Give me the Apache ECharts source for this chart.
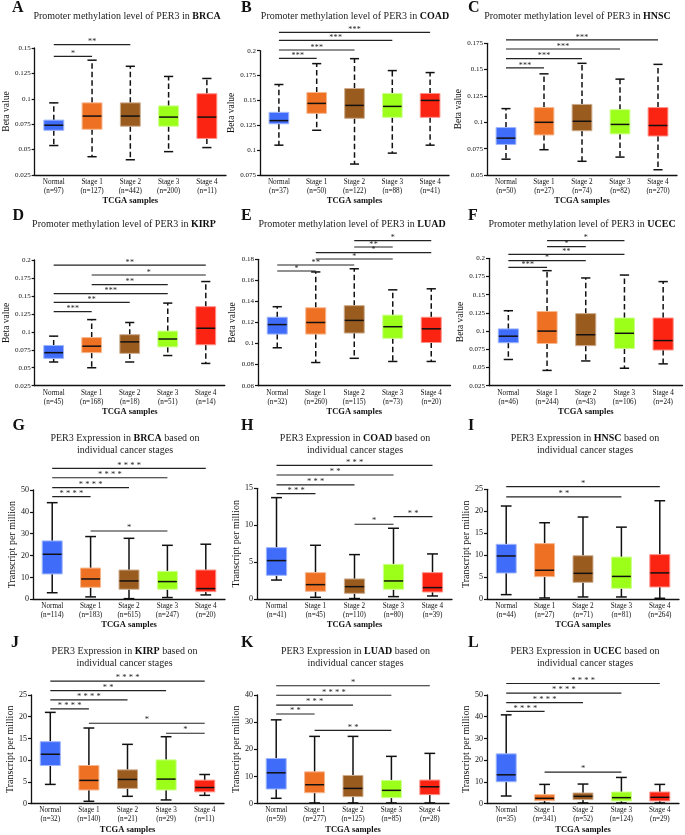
<!DOCTYPE html>
<html><head><meta charset="utf-8">
<script src="https://cdn.jsdelivr.net/npm/echarts@6/dist/echarts.min.js"></script>
<style>html,body{margin:0;padding:0;background:#fff}#c{width:685px;height:835px}</style>
</head><body><div id="c"></div>
<script>
// ---------------- DATA ----------------
const categories = ['Normal', 'Stage 1', 'Stage 2', 'Stage 3', 'Stage 4'];
const cancers = ['BRCA', 'COAD', 'HNSC', 'KIRP', 'LUAD', 'UCEC', 'BRCA', 'COAD', 'HNSC', 'KIRP', 'LUAD', 'UCEC'];
const letters = ['A','B','C','D','E','F','G','H','I','J','K','L'];

const nA = [97, 127, 442, 200, 11];
const nB = [37, 50, 122, 88, 41];
const nC = [50, 27, 74, 82, 270];
const nD = [45, 168, 18, 51, 14];
const nE = [32, 260, 115, 73, 20];
const nF = [46, 244, 43, 106, 24];
const nG = [114, 183, 615, 247, 20];
const nH = [41, 45, 110, 80, 39];
const nI = [44, 27, 71, 81, 264];
const nJ = [32, 140, 21, 29, 11];
const nK = [59, 277, 125, 85, 28];
const nL = [35, 341, 52, 124, 29];

// [min, Q1, median, Q3, max]
const boxA = [[0.054,0.069,0.074,0.079,0.096],[0.043,0.070,0.083,0.096,0.138],[0.040,0.073,0.083,0.096,0.132],[0.048,0.073,0.082,0.093,0.122],[0.052,0.061,0.082,0.105,0.120]];
const boxB = [[0.105,0.1265,0.1297,0.138,0.166],[0.120,0.137,0.147,0.158,0.187],[0.086,0.132,0.145,0.162,0.192],[0.097,0.133,0.144,0.157,0.180],[0.105,0.133,0.150,0.157,0.178]];
const boxC = [[0.065,0.079,0.085,0.095,0.113],[0.074,0.088,0.100,0.114,0.146],[0.063,0.092,0.101,0.117,0.156],[0.067,0.089,0.098,0.112,0.141],[0.055,0.087,0.097,0.114,0.155]];
const boxD = [[0.058,0.063,0.071,0.081,0.094],[0.050,0.071,0.080,0.092,0.117],[0.058,0.070,0.086,0.096,0.113],[0.067,0.079,0.090,0.101,0.140],[0.056,0.082,0.105,0.135,0.170]];
const boxE = [[0.096,0.109,0.118,0.125,0.135],[0.082,0.109,0.120,0.134,0.168],[0.086,0.110,0.122,0.136,0.171],[0.083,0.105,0.116,0.127,0.151],[0.083,0.101,0.114,0.125,0.152]];
const boxF = [[0.061,0.084,0.093,0.103,0.128],[0.046,0.083,0.100,0.127,0.183],[0.059,0.080,0.095,0.124,0.173],[0.049,0.076,0.097,0.118,0.177],[0.055,0.074,0.087,0.118,0.168]];
const boxG = [[3.0,11.6,20.6,26.7,44.2],[1.1,5.5,9.3,14.3,28.7],[0.3,4.6,8.4,13.4,27.9],[0.8,4.6,8.1,12.8,24.7],[2.0,3.5,4.9,13.4,25.2]];
const boxH = [[2.6,3.24,5.23,6.98,13.74],[0.27,1.08,1.98,3.6,7.3],[0.1,0.81,1.71,2.75,6.04],[0.36,1.35,2.48,4.73,9.6],[0.45,0.99,1.58,3.6,6.13]];
const boxI = [[1.06,5.98,9.85,12.5,21.2],[0.3,5.15,6.6,12.65,17.4],[0.53,3.86,5.9,9.9,18.7],[0.53,2.5,5.2,9.6,16.4],[0.23,2.8,6.0,10.15,22.4]];
const boxJ = [[4.42,8.77,11.36,14.25,21.0],[0.53,3.13,5.34,8.77,17.4],[1.68,3.5,5.56,7.77,13.64],[0.84,3.13,5.64,10.06,15.4],[1.9,2.7,3.7,5.4,6.7]];
const boxK = [[1.95,5.37,11.34,16.6,30.85],[0.24,4.0,6.95,11.7,24.76],[0.24,2.56,5.6,10.37,24.76],[0.24,2.2,4.88,8.54,17.4],[0.24,3.3,6.2,8.66,18.5]];
const boxL = [[3.5,10.06,13.26,22.9,40.85],[0.15,1.37,2.44,4.1,8.84],[0.3,1.83,3.35,4.88,9.0],[0.3,1.22,2.74,5.33,12.04],[0.3,1.22,2.9,5.33,8.84]];

// significance brackets: [fromCategory, toCategory, level, stars]
const sigA = [[0,1,0.1418,'*'],[0,2,0.1533,'**']];
const sigB = [[0,1,0.1923,'***'],[0,2,0.2007,'***'],[0,3,0.2104,'***'],[0,4,0.2184,'***']];
const sigC = [[0,1,0.1516,'***'],[0,2,0.1604,'***'],[0,3,0.1696,'***'],[0,4,0.1782,'***']];
const sigD = [[0,1,0.128,'***'],[0,2,0.141,'**'],[0,3,0.1532,'***'],[1,3,0.1657,'**'],[1,4,0.1791,'*'],[0,4,0.193,'**']];
const sigE = [[0,1,0.1689,'*'],[0,2,0.1746,'**'],[1,3,0.1803,'*'],[1,4,0.1863,'*'],[2,3,0.1917,'**'],[2,4,0.1977,'*']];
const sigF = [[0,1,0.1876,'***'],[0,2,0.1968,'*'],[0,3,0.2055,'**'],[1,2,0.216,'*'],[1,3,0.2243,'*']];
const sigG = [[0,1,47.0,'****'],[0,2,51.1,'****'],[0,3,55.6,'****'],[0,4,59.9,'****'],[1,3,31.25,'*']];
const sigH = [[0,1,14.28,'***'],[0,2,15.45,'***'],[0,3,16.8,'**'],[0,4,18.1,'***'],[2,3,10.14,'*'],[3,4,11.17,'**']];
const sigI = [[0,3,23.3,'**'],[0,4,25.6,'*']];
const sigJ = [[0,1,21.8,'****'],[0,2,23.86,'****'],[0,3,26.0,'**'],[0,4,28.2,'****'],[1,4,18.5,'*'],[3,4,16.2,'*']];
const sigK = [[0,1,33.0,'**'],[0,2,36.3,'***'],[0,3,39.9,'****'],[0,4,43.4,'*'],[1,3,26.95,'**']];
const sigL = [[0,1,42.5,'****'],[0,2,46.5,'****'],[0,3,50.9,'****'],[0,4,55.3,'****'],[1,3,14.5,'*']];

// y-axis tick labels
const ticksA = [0.025, 0.05, 0.075, 0.1, 0.125, 0.15];
const ticksB = [0.075, 0.1, 0.125, 0.15, 0.175, 0.2];
const ticksC = [0.05, 0.075, 0.1, 0.125, 0.15, 0.175];
const ticksD = [0.025, 0.05, 0.075, 0.1, 0.125, 0.15, 0.175, 0.2];
const ticksE = [0.06, 0.08, 0.1, 0.12, 0.14, 0.16, 0.18];
const ticksF = [0.025, 0.05, 0.075, 0.1, 0.125, 0.15, 0.175, 0.2];
const ticksG = [0, 10, 20, 30, 40, 50];
const ticksH = [0, 5, 10, 15];
const ticksI = [0, 5, 10, 15, 20, 25];
const ticksJ = [0, 5, 10, 15, 20, 25];
const ticksK = [0, 10, 20, 30, 40];
const ticksL = [0, 10, 20, 30, 40, 50];

// ---------------- LAYOUT / STYLE ----------------
const FONT = 'Liberation Serif';
const COLORS = ['#3f6cf8', '#ee7022', '#9a5b1f', '#9bff1a', '#fb2412'];
function tint(hex, f) {
  const n = parseInt(hex.slice(1), 16);
  const r = (n >> 16) & 255, g = (n >> 8) & 255, b = n & 255;
  const m = c => Math.round(c + (255 - c) * f);
  return 'rgb(' + m(r) + ',' + m(g) + ',' + m(b) + ')';
}
const BORDERS = COLORS.map(c => tint(c, 0.5));

const panels = [
  {n:nA, box:boxA, sig:sigA, ticks:ticksA, g:{l:32.3, t:48, w:193.7, h:127}},
  {n:nB, box:boxB, sig:sigB, ticks:ticksB, g:{l:260, t:50.7, w:189, h:124.3}},
  {n:nC, box:boxC, sig:sigC, ticks:ticksC, g:{l:487, t:43.3, w:190, h:131.7}},
  {n:nD, box:boxD, sig:sigD, ticks:ticksD, g:{l:32.8, t:260, w:192, h:125.7}},
  {n:nE, box:boxE, sig:sigE, ticks:ticksE, g:{l:258, t:259.3, w:192.5, h:126.4}},
  {n:nF, box:boxF, sig:sigF, ticks:ticksF, g:{l:489, t:258.3, w:193.5, h:127.4}},
  {n:nG, box:boxG, sig:sigG, ticks:ticksG, g:{l:33, t:490, w:192, h:109.3}},
  {n:nH, box:boxH, sig:sigH, ticks:ticksH, g:{l:257, t:488.3, w:195, h:111}},
  {n:nI, box:boxI, sig:sigI, ticks:ticksI, g:{l:487, t:489.3, w:192, h:110}},
  {n:nJ, box:boxJ, sig:sigJ, ticks:ticksJ, g:{l:31, t:695, w:193, h:109.3}},
  {n:nK, box:boxK, sig:sigK, ticks:ticksK, g:{l:257, t:695, w:192, h:109.3}},
  {n:nL, box:boxL, sig:sigL, ticks:ticksL, g:{l:487, t:695, w:192, h:109.3}}
];
const letterPos = [[12,8],[241,8],[468,8],[12.5,216],[241,216],[468,216],[12.5,426],[241,426],[468,426],[11,642.5],[241,642.5],[468,642.5]];
const titlePos = [[127,16],[355,16],[577.5,16],[124,224],[352,224],[582,224],[125,444.2],[355,444.2],[585,444.2],[124.5,657],[355.5,657],[585,657]];

function boxRender(dashed) {
  return function (params, api) {
    const i = api.value(0);
    const p = [1,2,3,4,5].map(k => api.coord([i, api.value(k)]));
    const cx = p[0][0];
    const catW = api.size([1, 0])[0];
    const bw = catW * 0.52;
    const cap = catW * (dashed ? 0.24 : 0.28);
    const k = params.dataIndex;
    const ws = {stroke:'#111', lineWidth:1.5, lineDash: dashed ? [5.5, 3] : null};
    const cs = {stroke:'#111', lineWidth:1.5};
    return {type:'group', children:[
      {type:'line', shape:{x1:cx, y1:p[3][1], x2:cx, y2:p[4][1]}, style:ws},
      {type:'line', shape:{x1:cx, y1:p[1][1], x2:cx, y2:p[0][1]}, style:ws},
      {type:'line', shape:{x1:cx-cap/2, y1:p[4][1], x2:cx+cap/2, y2:p[4][1]}, style:cs},
      {type:'line', shape:{x1:cx-cap/2, y1:p[0][1], x2:cx+cap/2, y2:p[0][1]}, style:cs},
      {type:'rect', shape:{x:cx-bw/2, y:p[3][1], width:bw, height:p[1][1]-p[3][1]}, style:{fill:COLORS[k], stroke:BORDERS[k], lineWidth:1}},
      {type:'line', shape:{x1:cx-bw/2+0.5, y1:p[2][1], x2:cx+bw/2-0.5, y2:p[2][1]}, style:{stroke:'#111', lineWidth:1.5}}
    ]};
  };
}
function sigRender(sig, spacing, fs) {
  return function (params, api) {
    const s = sig[params.dataIndex];
    const a = api.coord([s[0], s[2]]);
    const b = api.coord([s[1], s[2]]);
    const ch = [{type:'line', shape:{x1:a[0], y1:a[1], x2:b[0], y2:b[1]}, style:{stroke:'#222', lineWidth:1.2}}];
    const m = s[3].length, mid = (a[0] + b[0]) / 2;
    for (let j = 0; j < m; j++) {
      ch.push({type:'text', style:{text:'*', x: mid + (j - (m - 1) / 2) * spacing, y: a[1] + 1.5,
        textAlign:'center', textVerticalAlign:'bottom', font: fs + 'px "' + FONT + '"', fill:'#222'}});
    }
    return {type:'group', children: ch};
  };
}

const grid = [], xAxis = [], yAxis = [], series = [], graphic = [];
panels.forEach((P, idx) => {
  const meth = idx < 6;
  grid.push({left:P.g.l, top:P.g.t, width:P.g.w, height:P.g.h, containLabel:false});
  xAxis.push({
    type:'category', gridIndex:idx,
    data: categories.map((c, i) => c + '\n(n=' + P.n[i] + ')'),
    axisLine:{lineStyle:{color:'#111', width:1.3}}, axisTick:{show:false},
    axisLabel:{interval:0, fontFamily:FONT, fontSize:7.2, lineHeight:9, margin:2.5, color:'#111'},
    name:'TCGA samples', nameLocation:'middle', nameGap:21,
    nameTextStyle:{fontFamily:FONT, fontWeight:'bold', fontSize:8.5, color:'#111'}
  });
  const t = P.ticks;
  yAxis.push({
    type:'value', gridIndex:idx, min:t[0], max:t[t.length-1], interval:t[1]-t[0],
    axisLine:{show:true, lineStyle:{color:'#111', width:1.3}},
    axisTick:{show:true, length:3, lineStyle:{color:'#111', width:1.2}},
    splitLine:{show:false},
    axisLabel:{fontFamily:FONT, fontSize: meth ? 7 : 8, margin:4, color:'#111',
      formatter: v => String(parseFloat((+v).toFixed(4)))},
    name: meth ? 'Beta value' : 'Transcript per million', nameLocation:'middle',
    nameGap: meth ? 21 : 16,
    nameTextStyle:{fontFamily:FONT, fontSize: meth ? 9.5 : 10, color:'#111'}
  });
  series.push({
    type:'custom', xAxisIndex:idx, yAxisIndex:idx, silent:true, clip:false,
    renderItem: boxRender(meth),
    encode:{x:0, y:[1,2,3,4,5]},
    data: P.box.map((b, i) => [i].concat(b))
  });
  series.push({
    type:'custom', xAxisIndex:idx, yAxisIndex:idx, silent:true, clip:false,
    renderItem: sigRender(P.sig, meth ? 4.3 : 6.5, meth ? 8 : 8.5),
    encode:{x:[0,1], y:2},
    data: P.sig.map(s => [s[0], s[1], s[2]])
  });
  graphic.push({type:'text', silent:true, style:{text:letters[idx], x:letterPos[idx][0], y:letterPos[idx][1],
    textVerticalAlign:'middle', textAlign:'left', font:'bold 16px "' + FONT + '"', fill:'#111'}});
  const txt = meth ? 'Promoter methylation level of PER3 in {b|' + cancers[idx] + '}'
                   : 'PER3 Expression in {b|' + cancers[idx] + '} based on\nindividual cancer stages';
  graphic.push({type:'text', silent:true, style:{text:txt, x:titlePos[idx][0], y:titlePos[idx][1],
    textAlign:'center', textVerticalAlign:'middle', fontFamily:FONT, fontSize:10, lineHeight:12, fill:'#222',
    rich:{b:{fontFamily:FONT, fontSize:10, fontWeight:'bold', lineHeight:12, fill:'#111'}}}});
});

const chart = echarts.init(document.getElementById('c'), null, {renderer:'canvas'});
chart.setOption({
  animation:false, backgroundColor:'#fff',
  textStyle:{fontFamily:FONT},
  grid, xAxis, yAxis, series, graphic
});
</script></body></html>
